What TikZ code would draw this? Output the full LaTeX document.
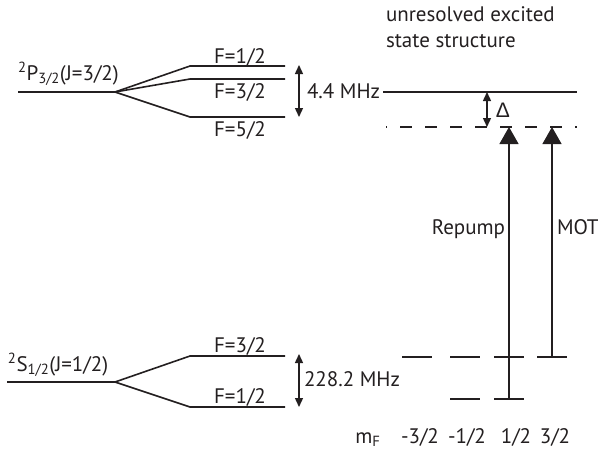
\documentclass[tikz,border=0pt]{standalone}
\usepackage{fontspec}
\setmainfont{PT Sans}
\newfontfamily\gkfont{Liberation Sans}
\usetikzlibrary{arrows.meta}
\definecolor{ink}{HTML}{231F20}
\begin{document}
\begin{tikzpicture}[x=1pt,y=-1pt,
  font=\fontsize{21}{25}\selectfont, color=ink,
  level/.style={line width=1.6pt},
  mlevel/.style={line width=1.4pt},
  split/.style={{Triangle[length=9pt,width=8pt]}-{Triangle[length=9pt,width=8pt]}, line width=1.4pt},
  laser/.style={-{Triangle[length=17pt,width=19pt]}, line width=1.3pt},
  lbl/.style={inner sep=0pt, outer sep=0pt}]
\useasboundingbox (0,0) rectangle (598,450);

% ---------- excited state 2P3/2 ----------
\coordinate (PJa) at (18,92);  \coordinate (PJb) at (115,92);
\coordinate (P1a) at (190,66); \coordinate (P1b) at (285,66);
\coordinate (P3a) at (190,79); \coordinate (P3b) at (285,79);
\coordinate (P5a) at (190,117);\coordinate (P5b) at (285,117);
\draw[level] (PJa) -- (PJb);
\draw[level] (PJb) -- (P1a) -- (P1b);
\draw[level] (PJb) -- (P3a) -- (P3b);
\draw[level] (PJb) -- (P5a) -- (P5b);
\node[lbl, anchor=base west] (Plab) at (18,80) {\textsuperscript{2}P\textsubscript{3/2}(J=3/2)};
\node[lbl, anchor=base] (F1top) at (240,63) {F=1/2};
\node[lbl, anchor=base] (F3top) at (240,98) {F=3/2};
\node[lbl, anchor=base] (F5top) at (240,136) {F=5/2};
\coordinate (Pt) at (299,65); \coordinate (Pb) at (299,117);
\draw[split] (Pt) -- (Pb);
\node[lbl, anchor=base west] (PMHz) at (307,98) {4.4 MHz};

% unresolved structure
\coordinate (Ua) at (383,92); \coordinate (Ub) at (577,92);
\draw[level] (Ua) -- (Ub);
\coordinate (Da) at (386,127); \coordinate (Db) at (577,127);
\draw[level, dash pattern=on 12pt off 13pt, dash phase=11pt] (Da) -- (Db);
\coordinate (Dt) at (487,92); \coordinate (Db2) at (487,127);
\draw[split] (Dt) -- (Db2);
\node[lbl, anchor=base] (Dlab) at (503,117) {\gkfont Δ};
\node[lbl, anchor=base west] (unres) at (386,21) {unresolved excited};
\node[lbl, anchor=base west] (unres2) at (386,47) {state structure};

% ---------- ground state 2S1/2 ----------
\coordinate (SJa) at (7,382);   \coordinate (SJb) at (115,382);
\coordinate (S3a) at (190,356); \coordinate (S3b) at (285,356);
\coordinate (S1a) at (190,407); \coordinate (S1b) at (285,407);
\draw[level] (SJa) -- (SJb);
\draw[level] (SJb) -- (S3a) -- (S3b);
\draw[level] (SJb) -- (S1a) -- (S1b);
\node[lbl, anchor=base west] (Slab) at (8,371) {\textsuperscript{2}S\textsubscript{1/2}(J=1/2)};
\node[lbl, anchor=base] (G3) at (240,352) {F=3/2};
\node[lbl, anchor=base] (G1) at (240,403) {F=1/2};
\coordinate (St) at (299,354); \coordinate (Sb) at (299,407);
\draw[split] (St) -- (Sb);
\node[lbl, anchor=base west] (SMHz) at (304,386) {228.2 MHz};

% m_F sublevels
\coordinate (u1a) at (402,357); \coordinate (u1b) at (432,357);
\coordinate (u2a) at (450,357); \coordinate (u2b) at (480,357);
\coordinate (u3a) at (494,357); \coordinate (u3b) at (524,357);
\coordinate (u4a) at (537,357); \coordinate (u4b) at (567,357);
\coordinate (l2a) at (450,399); \coordinate (l2b) at (480,399);
\coordinate (l3a) at (494,399); \coordinate (l3b) at (524,399);
\foreach \p in {u1,u2,u3,u4,l2,l3} \draw[mlevel] (\p a) -- (\p b);

% lasers
\coordinate (Rb) at (509,399); \coordinate (Rt) at (509,127);
\coordinate (Mb) at (552,357); \coordinate (Mt) at (552,127);
\draw[laser] (Rb) -- (Rt);
\draw[laser] (Mb) -- (Mt);
\node[lbl, anchor=base east] (Rlab) at (505,234) {Repump};
\node[lbl, anchor=base west] (Mlab) at (557,234) {MOT};

% m_F labels
\node[lbl, anchor=base] (mF) at (368,443) {m\textsubscript{F}};
\node[lbl, anchor=base] (m1) at (420,443) {-3/2};
\node[lbl, anchor=base] (m2) at (467,443) {-1/2};
\node[lbl, anchor=base] (m3) at (516,443) {1/2};
\node[lbl, anchor=base] (m4) at (555,443) {3/2};
\end{tikzpicture}
\end{document}
